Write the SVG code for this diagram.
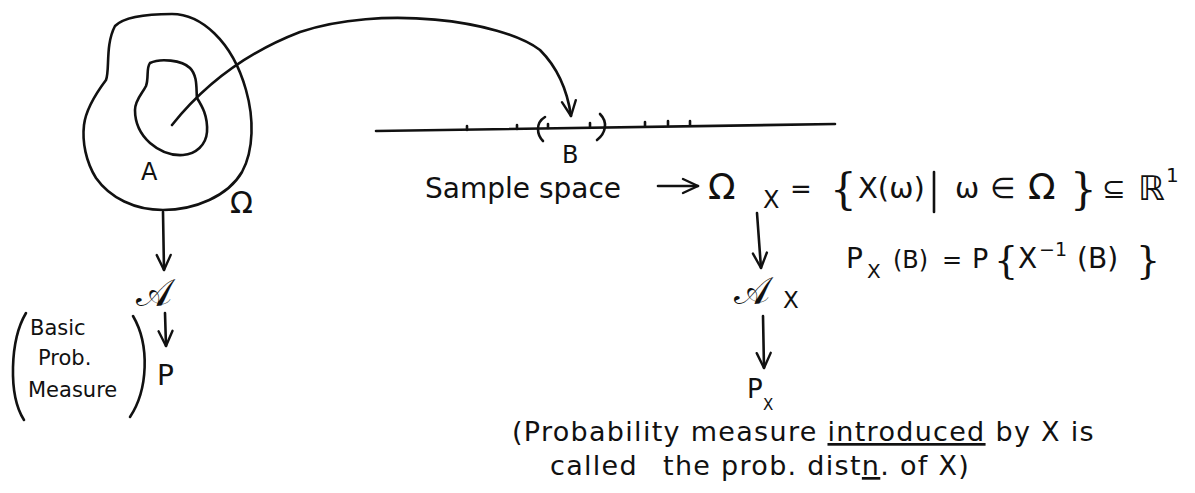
<svg xmlns="http://www.w3.org/2000/svg" width="1195" height="493" viewBox="0 0 1195 493">
<style>
.ink{fill:none;stroke:#111;stroke-width:2.6;stroke-linecap:round;stroke-linejoin:round}
.t{font-family:"DejaVu Sans","Liberation Sans",sans-serif;fill:#111}
.s{font-family:"DejaVu Serif","DejaVu Sans",serif;fill:#111}
.note{font-size:27px;letter-spacing:1.3px}
</style>
<defs>
<marker id="vd" viewBox="0 0 20 20" refX="18" refY="10" markerWidth="20" markerHeight="20" markerUnits="userSpaceOnUse" orient="auto">
<path d="M3 3 L18 10 L3 17" fill="none" stroke="#111" stroke-width="2.4" stroke-linecap="round" stroke-linejoin="round"/>
</marker>
</defs>
<rect width="1195" height="493" fill="#fff"/>

<g id="omega-set">
<path class="ink" d="M115 26 C125 16 150 14 172 14 C200 14 232 40 246 90 C254 118 254 150 242 172 C228 196 195 210 163 210 C135 210 110 198 96 178 C86 162 82 142 84 125 C86 108 97 92 106 80 C110 70 105 45 115 26 Z"/>
<text class="t" x="230" y="213" font-size="30">Ω</text>
</g>

<g id="set-A">
<path class="ink" d="M150 63 C160 58 182 60 190 68 C198 76 196 90 197 98 C202 106 208 116 207 132 C206 145 196 154 183 155 C168 156 158 150 150 143 C140 134 135 122 135 110 C135 100 142 94 146 86 C149 78 146 68 150 63 Z"/>
<text class="t" x="141" y="180" font-size="24">A</text>
</g>

<g id="real-line">
<path class="ink" d="M376 131 L835 124"/>
<path class="ink" d="M467 126 v4 M517 125 v4 M548 124 v4 M590 123 v4 M645 122 v4 M668 121 v4 M690 121 v4"/>
<path class="ink" d="M545 117 C535 123 537 135 543 141"/>
<path class="ink" d="M600 114 C608 122 606 133 597 140"/>
<text class="t" x="562" y="163" font-size="24">B</text>
</g>

<g id="sample-space">
<text class="t" x="425" y="198" font-size="28">Sample space</text>
<text class="t" x="708" y="199" font-size="36">Ω</text>
<text class="t" x="763" y="208" font-size="24">X</text>
<text class="t" x="790" y="198" font-size="26">=</text>
<text class="s" x="830" y="204" font-size="42">{</text>
<text class="t" x="858" y="198" font-size="29">X(ω)</text>
<path class="ink" d="M934 172 V212"/>
<text class="t" x="955" y="198" font-size="29">ω</text>
<text class="t" x="990" y="198" font-size="29">∈</text>
<text class="t" x="1028" y="199" font-size="36">Ω</text>
<text class="s" x="1070" y="204" font-size="42">}</text>
<text class="t" x="1102" y="198" font-size="28">⊆</text>
<text class="t" x="1138" y="200" font-size="34">ℝ</text>
<text class="t" x="1166" y="182" font-size="20">1</text>
</g>

<g id="px-def">
<text class="t" x="846" y="268" font-size="28">P</text>
<text class="t" x="867" y="278" font-size="20">X</text>
<text class="t" x="893" y="268" font-size="24">(B)</text>
<text class="t" x="942" y="268" font-size="24">=</text>
<text class="t" x="972" y="268" font-size="27">P</text>
<text class="s" x="994" y="273" font-size="38">{</text>
<text class="t" x="1018" y="268" font-size="28">X</text>
<text class="t" x="1039" y="256" font-size="19">−1</text>
<text class="t" x="1077" y="268" font-size="28">(B)</text>
<text class="s" x="1136" y="273" font-size="38">}</text>
</g>

<g id="sigma-left">
<text class="s" x="136" y="306" font-size="38">𝒜</text>
</g>

<g id="p-left">
<text class="t" x="157" y="385" font-size="28">P</text>
</g>

<g id="basic-note">
<path class="ink" d="M26 313 C10 340 8 395 24 420"/>
<path class="ink" d="M133 316 C150 345 148 390 130 417"/>
<text class="t" x="30" y="335" font-size="21">Basic</text>
<text class="t" x="38" y="365" font-size="21">Prob.</text>
<text class="t" x="28" y="397" font-size="21">Measure</text>
</g>

<g id="sigma-x">
<text class="s" x="734" y="304" font-size="38">𝒜</text>
<text class="t" x="783" y="308" font-size="23">X</text>
</g>

<g id="p-x">
<text class="t" x="747" y="398" font-size="26">P</text>
<text class="t" x="763" y="410" font-size="15">X</text>
</g>

<g id="px-note">
<text class="t note" x="512" y="441">(Probability measure <tspan text-decoration="underline">introduced</tspan> by X is</text>
<text class="t note" x="550" y="475">called</text>
<text class="t note" x="663" y="475" letter-spacing="2">the prob. dist<tspan text-decoration="underline">n</tspan>. of X)</text>
</g>

<g id="connectors">
<path class="ink" d="M172 125 C200 90 240 55 300 32 C380 5 500 20 540 50 C560 70 568 95 571 116" marker-end="url(#vd)"/>
<path class="ink" d="M658 186 H698" marker-end="url(#vd)"/>
<path class="ink" d="M163 212 L164 270" marker-end="url(#vd)"/>
<path class="ink" d="M165 313 L166 346" marker-end="url(#vd)"/>
<path class="ink" d="M757 213 L761 268" marker-end="url(#vd)"/>
<path class="ink" d="M763 316 L764 368" marker-end="url(#vd)"/>
</g>
</svg>
